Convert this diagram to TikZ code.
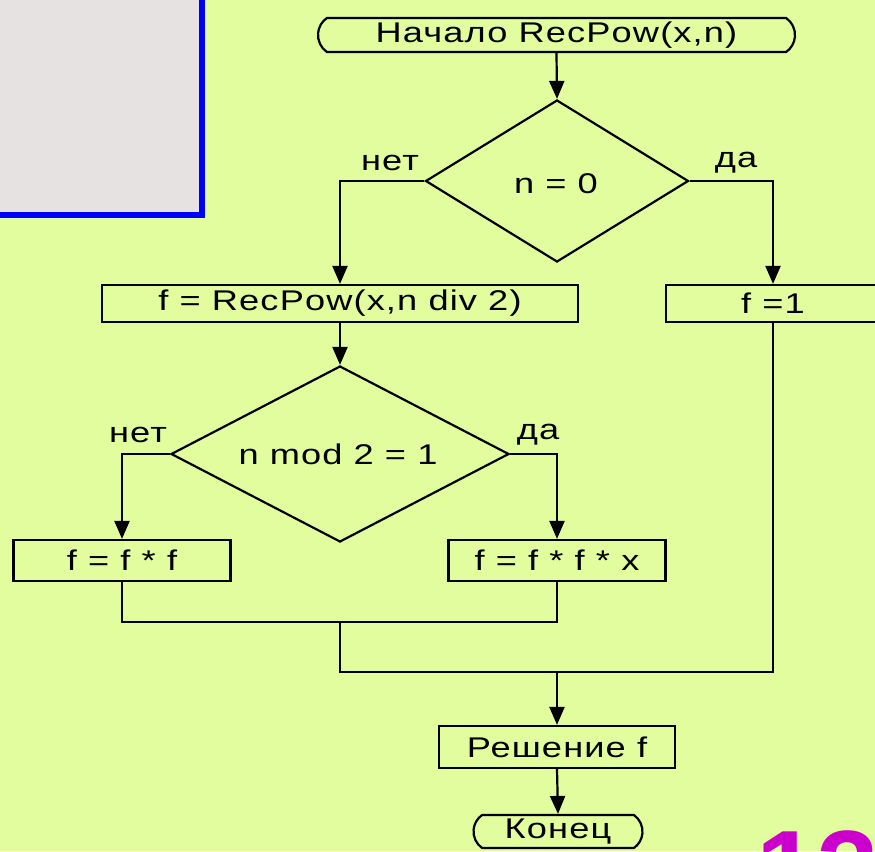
\documentclass[tikz,border=0pt]{standalone}
\usepackage{fontspec}
\setmainfont[FakeStretch=1.27,LetterSpace=4]{Liberation Sans}
\newfontfamily\bignum{Liberation Sans Bold}
\usetikzlibrary{arrows.meta,shapes.geometric,shapes.misc}
\definecolor{bg}{HTML}{E2FD9E}
\definecolor{graybox}{HTML}{E6E2E2}
\definecolor{bluebd}{HTML}{0000FF}
\definecolor{mag}{HTML}{CC00CC}
\tikzset{
  base/.style={draw=black, line width=2.2pt, inner sep=0pt, font=\fontsize{28.5}{32}\selectfont},
  proc/.style={base, rectangle, minimum height=38pt},
  term/.style={base, rounded rectangle, rounded rectangle arc length=110, minimum height=34pt},
  dec/.style={base, diamond},
  lbl/.style={inner sep=0pt, font=\fontsize{28.5}{32}\selectfont},
  flow/.style={line width=2.2pt},
  arr/.style={flow, -{Triangle[length=18pt,width=15pt]}}
}
\begin{document}
\begin{tikzpicture}[x=1pt,y=-1pt]
\useasboundingbox (0,0) rectangle (875,851);
\fill[bg] (0,0) rectangle (875,851);
% gray panel top-left
\fill[graybox] (-10,-10) rectangle (202,215);
\draw[bluebd, line width=5.5pt] (-10,-10) rectangle (202,215);
% slide number (clipped at the bottom edge, as in the reference)
\node[inner sep=0pt, anchor=north west, text=mag, font=\fontsize{110}{120}\bignum] (num) at (756,830) {13};
% nodes
\node[term, minimum width=477pt] (start) at (556.5,35) {Начало RecPow(x,n)};
\node[dec, minimum width=263pt, minimum height=162pt] (d1) at (557,181) {};
\node[lbl] (t1) at (556,184) {n = 0};
\node[lbl] (no1) at (390,163) {нет};
\node[lbl] (yes1) at (736,163) {да};
\node[proc, minimum width=476pt, minimum height=37pt] (b1) at (340,303.5) {f = RecPow(x,n div 2)};
\node[proc, minimum width=214pt, minimum height=37pt] (b2) at (773,303.5) {f =1};
\node[dec, minimum width=338pt, minimum height=176pt] (d2) at (340,454) {};
\node[lbl] (t2) at (338,454) {n mod 2 = 1};
\node[lbl] (no2) at (138,435) {нет};
\node[lbl] (yes2) at (538,435) {да};
\node[proc, minimum width=217pt, minimum height=41pt] (b3) at (122,560.5) {f = f * f};
\node[proc, minimum width=217pt, minimum height=41pt] (b4) at (557,560.5) {f = f * f * x};
\node[proc, minimum width=236pt, minimum height=42pt] (b5) at (557,747) {Решение f};
\node[term, minimum width=169pt, minimum height=33pt] (end) at (558,831.5) {Конец};
\coordinate (m1) at (340,622);
\coordinate (m2) at (340,672);
\coordinate (m3) at (557,672);
% connectors
\draw[arr] (start.south) -- (d1.north);
\draw[arr] (d1.west) -| (b1.north);
\draw[arr] (d1.east) -| (b2.north);
\draw[arr] (b1.south) -- (d2.north);
\draw[arr] (d2.west) -| (b3.north);
\draw[arr] (d2.east) -| (b4.north);
\draw[flow] (b3.south) -- (b3.south |- m1) -| (b4.south);
\draw[flow] (m1) -- (m2) -| (b2.south);
\draw[arr] (m3) -- (b5.north);
\draw[arr] (b5.south) -- (end.north);
\end{tikzpicture}
\end{document}
